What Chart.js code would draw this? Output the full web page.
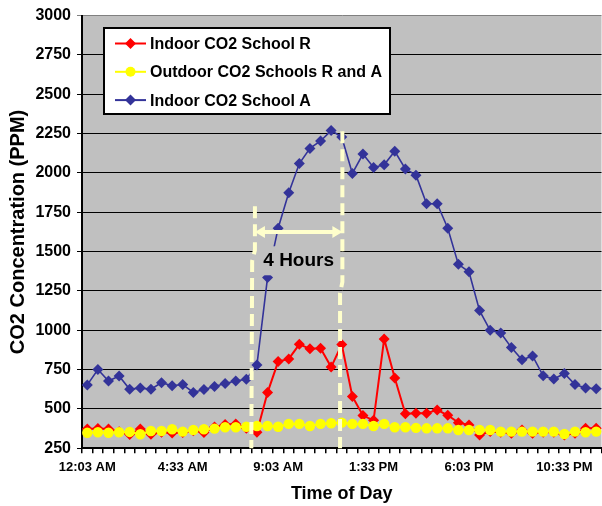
<!DOCTYPE html>
<html lang="en">
<head>
  <meta charset="UTF-8" />
  <title>CO2 Concentration - Schools R and A</title>
  <script src="https://cdn.jsdelivr.net/npm/chart.js"></script>
  <style>
    html, body { margin: 0; padding: 0; background: #fff; overflow: hidden; }
    #wrap { position: relative; width: 607px; height: 506px; }
  </style>
</head>
<body>
  <div id="wrap"><canvas id="co2Chart"></canvas></div>

  <script>
    // half-hour readings, 12:03 AM to 12:03 AM next day
    const times = [
      '12:03 AM', '12:33 AM', '1:03 AM', '1:33 AM', '2:03 AM', '2:33 AM', '3:03 AM', '3:33 AM',
      '4:03 AM', '4:33 AM', '5:03 AM', '5:33 AM', '6:03 AM', '6:33 AM', '7:03 AM', '7:33 AM',
      '8:03 AM', '8:33 AM', '9:03 AM', '9:33 AM', '10:03 AM', '10:33 AM', '11:03 AM', '11:33 AM',
      '12:03 PM', '12:33 PM', '1:03 PM', '1:33 PM', '2:03 PM', '2:33 PM', '3:03 PM', '3:33 PM',
      '4:03 PM', '4:33 PM', '5:03 PM', '5:33 PM', '6:03 PM', '6:33 PM', '7:03 PM', '7:33 PM',
      '8:03 PM', '8:33 PM', '9:03 PM', '9:33 PM', '10:03 PM', '10:33 PM', '11:03 PM', '11:33 PM',
      '12:03 AM'
    ];

    const indoorR = [
      372, 376, 372, 355, 338, 372, 340, 352, 348, 350, 362, 350, 385, 402, 405, 378,
      352, 604, 801, 818, 911, 882, 886, 766, 910, 580, 458, 428, 945, 697, 470, 472,
      472, 494, 460, 413, 398, 335, 356, 352, 345, 366, 345, 352, 352, 335, 345, 377,
      377
    ];

    const outdoorRA = [
      349, 352, 349, 352, 354, 339, 360, 360, 371, 356, 366, 371, 375, 384, 384, 387,
      392, 392, 387, 405, 405, 392, 405, 409, 413, 405, 405, 392, 405, 384, 384, 380,
      377, 377, 377, 366, 366, 366, 366, 356, 356, 356, 356, 356, 356, 341, 356, 352,
      356
    ];

    const indoorA = [
      653, 751, 678, 710, 625, 634, 625, 667, 648, 655, 605, 624, 643, 662, 678, 689,
      780, 1335, 1649, 1874, 2060, 2156, 2203, 2269, 2228, 1997, 2120, 2035, 2052, 2138, 2025, 1986,
      1804, 1804, 1649, 1419, 1372, 1125, 1000, 983, 890, 813, 837, 711, 690, 725, 655, 633,
      628
    ];

    const yMin = 250, yMax = 3000, yStep = 250;
    const labelEvery = 9;

    // "4 Hours" marker, in category index / ppm units
    const leftMark = [[15.81, 1788], [15.81, 1510], [15.55, 1440], [15.47, 250]];
    const rightMark = [[24.06, 2265], [24.06, 1307], [23.84, 1236], [23.84, 250]];
    const arrowPpm = 1625;
    const labelPpm = 1445;

    Chart.defaults.font.family = "'Liberation Sans', Arial, sans-serif";
    Chart.defaults.font.weight = 'bold';
    Chart.defaults.color = '#000';

    function marker(ctx, style, x, y, r) {
      ctx.beginPath();
      if (style === 'circle') {
        ctx.arc(x, y, r, 0, Math.PI * 2);
      } else {
        ctx.moveTo(x, y - r);
        ctx.lineTo(x + r, y);
        ctx.lineTo(x, y + r);
        ctx.lineTo(x - r, y);
        ctx.closePath();
      }
      ctx.fill();
    }

    const plotBg = {
      id: 'plotBg',
      beforeDraw(chart) {
        const { ctx, chartArea: a } = chart;
        ctx.save();
        ctx.fillStyle = '#c0c0c0';
        ctx.fillRect(a.left, a.top, a.right - a.left, a.bottom - a.top);
        ctx.restore();
      }
    };

    const hoursMark = {
      id: 'hoursMark',
      afterDatasetsDraw(chart) {
        const { ctx, scales: { x, y } } = chart;
        const px = p => [x.getPixelForValue(p[0]), y.getPixelForValue(p[1])];
        const xl = x.getPixelForValue(leftMark[0][0]);
        const xr = x.getPixelForValue(rightMark[0][0]);
        const ya = y.getPixelForValue(arrowPpm);
        const yt = y.getPixelForValue(labelPpm);
        ctx.save();

        // text box covers the lines behind it
        ctx.fillStyle = '#c0c0c0';
        ctx.fillRect(xl, yt - 14, xr - xl - 2, 29);

        ctx.strokeStyle = '#ffffcc';
        ctx.lineWidth = 4;
        ctx.setLineDash([12, 6]);
        [leftMark, rightMark].forEach(line => {
          ctx.beginPath();
          line.forEach((p, i) => {
            const [cx, cy] = px(p);
            if (i === 0) ctx.moveTo(cx, cy); else ctx.lineTo(cx, cy);
          });
          ctx.stroke();
        });

        // double arrow
        ctx.setLineDash([]);
        ctx.beginPath();
        ctx.moveTo(xl + 8, ya);
        ctx.lineTo(xr - 8, ya);
        ctx.stroke();
        ctx.fillStyle = '#ffffcc';
        ctx.beginPath();
        ctx.moveTo(xl, ya); ctx.lineTo(xl + 10, ya - 6); ctx.lineTo(xl + 10, ya + 6);
        ctx.closePath(); ctx.fill();
        ctx.beginPath();
        ctx.moveTo(xr, ya); ctx.lineTo(xr - 10, ya - 6); ctx.lineTo(xr - 10, ya + 6);
        ctx.closePath(); ctx.fill();

        ctx.fillStyle = '#000';
        ctx.font = "bold 19px 'Liberation Sans', Arial, sans-serif";
        ctx.textAlign = 'center';
        ctx.textBaseline = 'middle';
        ctx.fillText('4 Hours', (xl + xr) / 2, yt);
        ctx.restore();
      }
    };

    const boxLegend = {
      id: 'boxLegend',
      afterDraw(chart) {
        const ctx = chart.ctx;
        const items = [0, 1, 2].map(i => chart.data.datasets[i]);
        ctx.save();
        ctx.fillStyle = '#fff';
        ctx.fillRect(104, 28, 286, 86);
        ctx.strokeStyle = '#000';
        ctx.lineWidth = 2;
        ctx.strokeRect(104, 28, 286, 86);
        ctx.font = "bold 16px 'Liberation Sans', Arial, sans-serif";
        ctx.textBaseline = 'middle';
        items.forEach((ds, i) => {
          const yy = 43.5 + i * 28.3;
          ctx.strokeStyle = ds.borderColor;
          ctx.fillStyle = ds.borderColor;
          ctx.lineWidth = 2;
          ctx.beginPath();
          ctx.moveTo(115, yy);
          ctx.lineTo(146, yy);
          ctx.stroke();
          marker(ctx, ds.pointStyle, 130.5, yy, ds.pointStyle === 'circle' ? 5 : 5.5);
          ctx.fillStyle = '#000';
          ctx.fillText(ds.label, 150, yy + 1);
        });
        ctx.restore();
      }
    };

    new Chart(document.getElementById('co2Chart'), {
      type: 'line',
      data: {
        labels: times,
        datasets: [
          {
            label: 'Indoor CO2 School R',
            data: indoorR,
            borderColor: '#ff0000',
            backgroundColor: '#ff0000',
            pointStyle: 'rectRot',
            pointRadius: 5.5,
            pointBorderWidth: 0,
            borderWidth: 2,
            order: 1
          },
          {
            label: 'Outdoor CO2 Schools R and A',
            data: outdoorRA,
            borderColor: '#ffff00',
            backgroundColor: '#ffff00',
            pointStyle: 'circle',
            pointRadius: 5.2,
            pointBorderWidth: 0,
            borderWidth: 2,
            order: 0
          },
          {
            label: 'Indoor CO2 School A',
            data: indoorA,
            borderColor: '#333399',
            backgroundColor: '#333399',
            pointStyle: 'rectRot',
            pointRadius: 5.5,
            pointBorderWidth: 0,
            borderWidth: 1.6,
            order: 2
          }
        ]
      },
      options: {
        responsive: true,
        maintainAspectRatio: false,
        animation: false,
        layout: { padding: { top: 15, right: 0, bottom: 0, left: 0 } },
        plugins: {
          legend: { display: false },
          tooltip: { enabled: false }
        },
        scales: {
          x: {
            offset: true,
            afterFit: s => { s.height = 57.7; },
            grid: {
              offset: true,
              drawOnChartArea: false,
              drawTicks: true,
              tickLength: 5,
              color: '#000',
              lineWidth: 1.5
            },
            border: { color: '#000', width: 2 },
            ticks: {
              autoSkip: false,
              maxRotation: 0,
              padding: 6,
              font: { size: 13, weight: 'bold' },
              callback: (v, i) => (i % labelEvery === 0 && i < times.length - 1) ? times[i] : ''
            },
            title: {
              display: true,
              text: 'Time of Day',
              font: { size: 18, weight: 'bold' },
              padding: { top: 0, bottom: 1 }
            }
          },
          y: {
            min: yMin,
            max: yMax,
            afterFit: s => { s.width = 82; },
            grid: {
              color: ctx => ctx.tick && ctx.tick.value === yMax ? '#808080' : '#000',
              lineWidth: 1,
              tickLength: 5
            },
            border: { color: '#000', width: 2 },
            ticks: {
              stepSize: yStep,
              padding: 6,
              font: { size: 16, weight: 'bold' },
              callback: v => String(v)
            },
            title: {
              display: true,
              text: 'CO2 Concentration (PPM)',
              font: { size: 20, weight: 'bold' },
              padding: { top: 6, bottom: 0 }
            }
          }
        }
      },
      plugins: [plotBg, hoursMark, boxLegend]
    });
  </script>
</body>
</html>
